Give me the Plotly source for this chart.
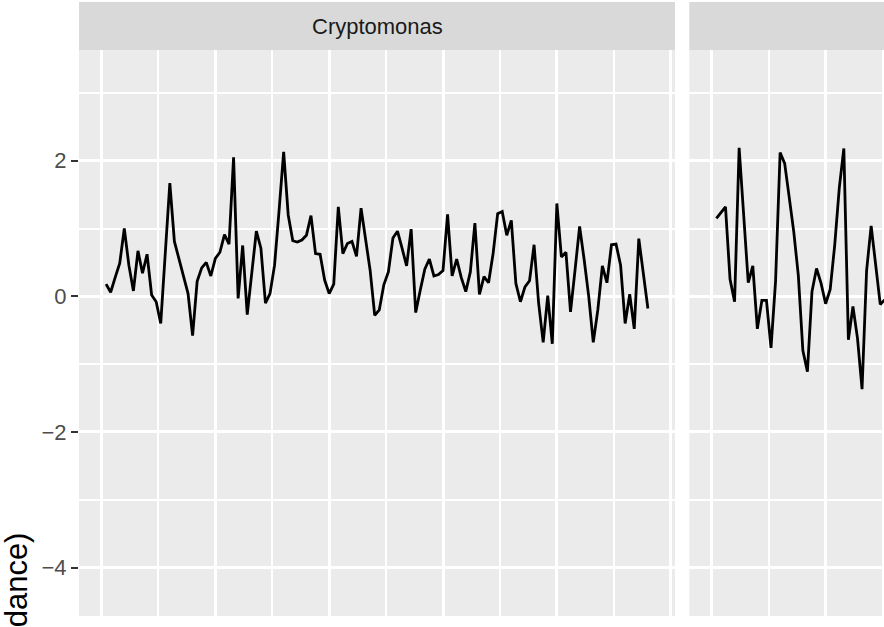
import plotly.graph_objects as go

# Time index shared by both facets
time_crypto = list(range(1, 121))
log_abund_crypto = [
    0.18, 0.06, 0.28, 0.49, 1.00, 0.46, 0.08, 0.67, 0.34, 0.62,
    0.02, -0.08, -0.40, 0.60, 1.67, 0.81, 0.56, 0.30, 0.04, -0.58,
    0.22, 0.42, 0.50, 0.30, 0.56, 0.65, 0.91, 0.77, 2.05, -0.03,
    0.75, -0.27, 0.38, 0.96, 0.71, -0.10, 0.04, 0.46, 1.27, 2.13,
    1.20, 0.82, 0.80, 0.83, 0.90, 1.19, 0.63, 0.62, 0.24, 0.04,
    0.18, 1.32, 0.63, 0.78, 0.81, 0.59, 1.30, 0.83, 0.38, -0.28,
    -0.20, 0.17, 0.36, 0.86, 0.96, 0.71, 0.45, 0.99, -0.24, 0.09,
    0.40, 0.55, 0.30, 0.32, 0.38, 1.21, 0.30, 0.55, 0.28, 0.07,
    0.36, 1.08, 0.03, 0.29, 0.20, 0.63, 1.22, 1.25, 0.90, 1.12,
    0.19, -0.08, 0.14, 0.23, 0.76, -0.10, -0.68, 0.01, -0.70, 1.37,
    0.58, 0.65, -0.23, 0.39, 1.03, 0.54, 0.00, -0.68, -0.20, 0.45,
    0.20, 0.76, 0.77, 0.46, -0.40, 0.03, -0.48, 0.85, 0.36, -0.18,
]

time_second = list(range(1, 39))
log_abund_second = [
    1.15, 1.24, 1.32, 0.25, -0.08, 2.19, 1.16, 0.20, 0.45, -0.48,
    -0.06, -0.06, -0.76, 0.22, 2.12, 1.96, 1.46, 0.95, 0.31, -0.80,
    -1.11, 0.07, 0.41, 0.19, -0.11, 0.10, 0.76, 1.60, 2.18, -0.64,
    -0.15, -0.62, -1.37, 0.38, 1.04, 0.48, -0.12, -0.05,
]

facet_labels = ["Cryptomonas"]
y_tick_vals = [-4, -2, 0, 2]
y_tick_text = ["\u22124", "\u22122", "0", "2"]

W, H = 884, 627
ML, MR, MT, MB = 79, 0, 50, 11
plot_w = W - ML - MR
plot_h = H - MT - MB

panel1_dom = [0.0, (675 - ML) / plot_w]
panel2_dom = [(689.3 - ML) / plot_w, 1.0]

x_range1 = [-4.95, 125.95]
x_range2 = [-4.95, -4.95 + (W - 689.3) / 4.552]
y_range = [-4.715, 3.633]

FONT = "Liberation Sans, Arial, Helvetica, sans-serif"

fig = go.Figure()
fig.add_trace(go.Scatter(x=time_crypto, y=log_abund_crypto, mode="lines",
                         line=dict(color="black", width=2.8),
                         xaxis="x", yaxis="y", showlegend=False,
                         hoverinfo="skip"))
fig.add_trace(go.Scatter(x=time_second, y=log_abund_second, mode="lines",
                         line=dict(color="black", width=2.8),
                         xaxis="x2", yaxis="y2", showlegend=False,
                         hoverinfo="skip"))

xaxis_common = dict(
    showticklabels=False, ticks="", zeroline=False, showline=False,
    showgrid=True, gridcolor="white", gridwidth=3.2,
    tick0=0, dtick=25,
    minor=dict(showgrid=True, gridcolor="white", gridwidth=1.6, tick0=0, dtick=12.5),
)
yaxis_common = dict(
    range=y_range, zeroline=False, showline=False,
    showgrid=True, gridcolor="white", gridwidth=3.2,
    tickvals=y_tick_vals,
    minor=dict(showgrid=True, gridcolor="white", gridwidth=1.6,
               tickvals=[-5, -3, -1, 1, 3]),
)

fig.update_layout(
    width=W, height=H,
    margin=dict(l=ML, r=MR, t=MT, b=MB, pad=0),
    paper_bgcolor="white", plot_bgcolor="#EBEBEB",
    font=dict(family=FONT),
    xaxis=dict(domain=panel1_dom, range=x_range1, **xaxis_common),
    xaxis2=dict(domain=panel2_dom, range=x_range2, anchor="y2", **xaxis_common),
    yaxis=dict(domain=[0, 1], anchor="x", ticktext=y_tick_text,
               ticks="outside", ticklen=7, tickwidth=2.4, tickcolor="#333333",
               tickfont=dict(size=22, color="#4D4D4D", family=FONT),
               **yaxis_common),
    yaxis2=dict(domain=[0, 1], anchor="x2", showticklabels=False, ticks="",
                **yaxis_common),
)

# Facet strips
strip_top = (H - MB - 2) / plot_h
for dom in (panel1_dom, panel2_dom):
    fig.add_shape(type="rect", xref="paper", yref="paper",
                  x0=dom[0], x1=dom[1], y0=1.0, y1=strip_top,
                  fillcolor="#D9D9D9", line=dict(width=0), layer="below")

fig.add_annotation(text=facet_labels[0], xref="paper", yref="paper",
                   x=(panel1_dom[0] + panel1_dom[1]) / 2,
                   y=(1.0 + strip_top) / 2, xanchor="center", yanchor="middle",
                   showarrow=False,
                   font=dict(size=22, color="#1A1A1A", family=FONT))

# Y axis title (the plot continues below, so only its end shows)
fig.add_annotation(text="log(abundance)", xref="paper", yref="paper",
                   x=(16 - ML) / plot_w, y=(H - MB - 641) / plot_h,
                   xanchor="center", yanchor="middle", textangle=-90,
                   showarrow=False,
                   font=dict(size=31, color="black", family=FONT))

fig.write_html("out.html")
